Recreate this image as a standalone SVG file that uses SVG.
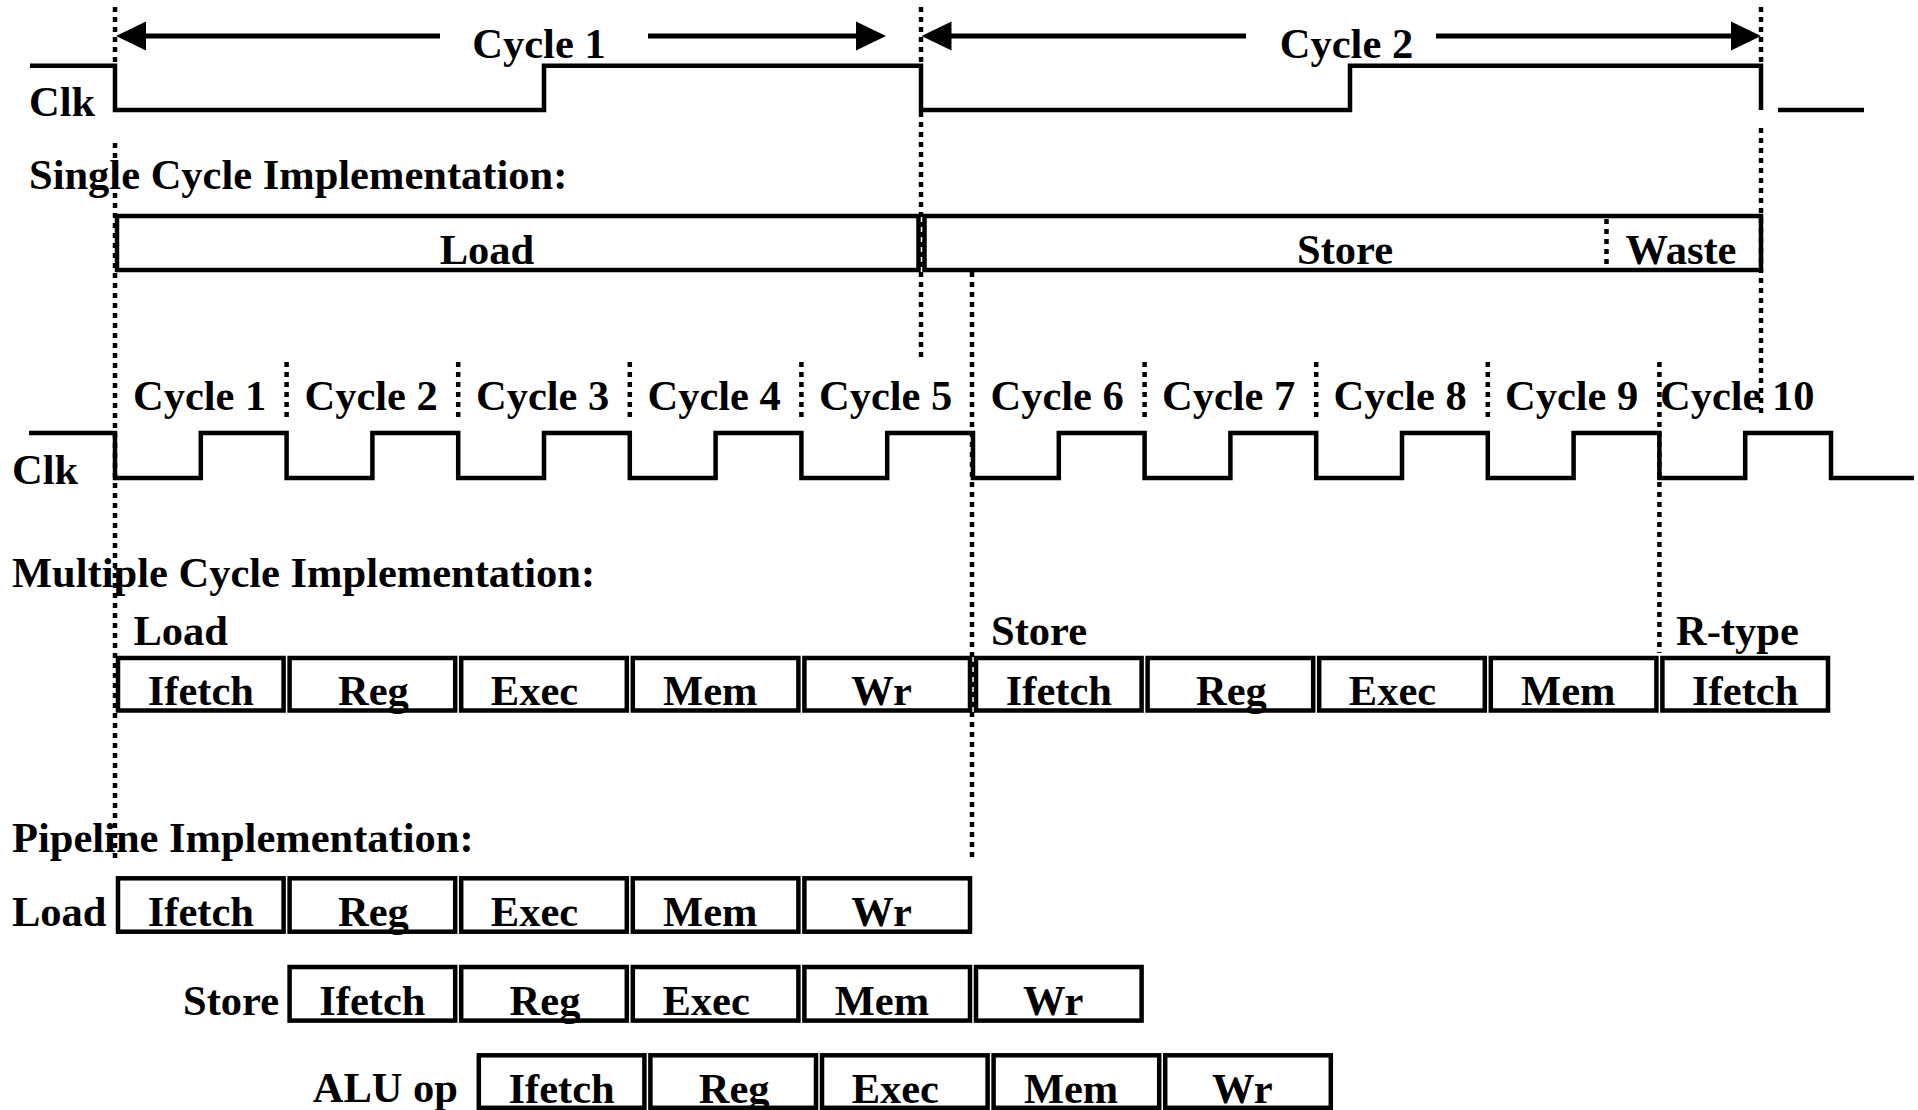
<svg xmlns="http://www.w3.org/2000/svg" width="1918" height="1110" viewBox="0 0 1918 1110">
<style>
text{font-family:"Liberation Serif","Times New Roman",serif;font-weight:bold;font-size:42.5px;fill:#000}
.m{text-anchor:middle}
.e{text-anchor:end}
.box{fill:#fff;stroke:#000;stroke-width:4.5}
.clk{fill:none;stroke:#000;stroke-width:4.5}
.dot{fill:none;stroke:#000;stroke-width:4.5;stroke-dasharray:5 5}
.arr{fill:none;stroke:#000;stroke-width:5}
</style>
<rect width="1918" height="1110" fill="#fff"/>

<g id="labels">
<text x="29" y="116">Clk</text>
<text x="29" y="189">Single Cycle Implementation:</text>
<text x="12" y="484">Clk</text>
<text x="12" y="587">Multiple Cycle Implementation:</text>
<text x="12" y="852">Pipeline Implementation:</text>
<text x="133.5" y="645">Load</text>
<text x="991" y="645">Store</text>
<text x="1676" y="645">R-type</text>
<text x="12" y="926">Load</text>
<text class="e" x="279" y="1015">Store</text>
<text class="e" x="458" y="1102">ALU op</text>
</g>

<g id="clock-top">
<path class="clk" d="M30 65.8H115V110H544V65.8H921V110H1350V65.8H1761V110"/>
<path class="clk" d="M1778 110H1864"/>
<text class="m" x="539" y="58">Cycle 1</text>
<text class="m" x="1346.5" y="58">Cycle 2</text>
</g>

<g id="clock-multi">
<path class="clk" d="M29 433H115V478H200.8V433H286.6V478H372.4V433H458.2V478H544V433H629.8V478H715.6V433H801.4V478H887.2V433H973V478H1058.8V433H1144.6V478H1230.4V433H1316.2V478H1402V433H1487.8V478H1573.6V433H1659.4V478H1745.2V433H1831V478H1914"/>
<text x="133" y="410">Cycle 1</text>
<text x="304.5" y="410">Cycle 2</text>
<text x="476" y="410">Cycle 3</text>
<text x="647.5" y="410">Cycle 4</text>
<text x="819" y="410">Cycle 5</text>
<text x="990.5" y="410">Cycle 6</text>
<text x="1162" y="410">Cycle 7</text>
<text x="1333.5" y="410">Cycle 8</text>
<text x="1505" y="410">Cycle 9</text>
<text x="1660" y="410">Cycle 10</text>
</g>

<g id="single-load"><rect class="box" x="117" y="216" width="801.5" height="54"/><text class="m" x="487" y="264">Load</text></g>
<g id="single-store"><rect class="box" x="924.5" y="216" width="836.5" height="54"/><text class="m" x="1345" y="264">Store</text><text class="m" x="1681" y="264">Waste</text></g>

<g id="multi-load-ifetch"><rect class="box" x="118" y="658" width="165.6" height="52.5"/><text class="m" x="200.8" y="705">Ifetch</text></g>
<g id="multi-load-reg"><rect class="box" x="289.6" y="658" width="165.6" height="52.5"/><text class="m" x="373.4" y="705">Reg</text></g>
<g id="multi-load-exec"><rect class="box" x="461.2" y="658" width="165.6" height="52.5"/><text class="m" x="534.5" y="705">Exec</text></g>
<g id="multi-load-mem"><rect class="box" x="632.8" y="658" width="165.6" height="52.5"/><text class="m" x="710.3" y="705">Mem</text></g>
<g id="multi-load-wr"><rect class="box" x="804.4" y="658" width="165.6" height="52.5"/><text class="m" x="881.6" y="705">Wr</text></g>
<g id="multi-store-ifetch"><rect class="box" x="976" y="658" width="165.6" height="52.5"/><text class="m" x="1058.8" y="705">Ifetch</text></g>
<g id="multi-store-reg"><rect class="box" x="1147.6" y="658" width="165.6" height="52.5"/><text class="m" x="1231.4" y="705">Reg</text></g>
<g id="multi-store-exec"><rect class="box" x="1319.2" y="658" width="165.6" height="52.5"/><text class="m" x="1392.5" y="705">Exec</text></g>
<g id="multi-store-mem"><rect class="box" x="1490.8" y="658" width="165.6" height="52.5"/><text class="m" x="1568.3" y="705">Mem</text></g>
<g id="multi-rtype-ifetch"><rect class="box" x="1662.4" y="658" width="165.6" height="52.5"/><text class="m" x="1745.2" y="705">Ifetch</text></g>

<g id="pipe-load-ifetch"><rect class="box" x="118" y="878.3" width="165.6" height="53.4"/><text class="m" x="200.8" y="926">Ifetch</text></g>
<g id="pipe-load-reg"><rect class="box" x="289.6" y="878.3" width="165.6" height="53.4"/><text class="m" x="373.4" y="926">Reg</text></g>
<g id="pipe-load-exec"><rect class="box" x="461.2" y="878.3" width="165.6" height="53.4"/><text class="m" x="534.5" y="926">Exec</text></g>
<g id="pipe-load-mem"><rect class="box" x="632.8" y="878.3" width="165.6" height="53.4"/><text class="m" x="710.3" y="926">Mem</text></g>
<g id="pipe-load-wr"><rect class="box" x="804.4" y="878.3" width="165.6" height="53.4"/><text class="m" x="881.6" y="926">Wr</text></g>

<g id="pipe-store-ifetch"><rect class="box" x="289.6" y="967" width="165.6" height="53.6"/><text class="m" x="372.4" y="1015">Ifetch</text></g>
<g id="pipe-store-reg"><rect class="box" x="461.2" y="967" width="165.6" height="53.6"/><text class="m" x="545" y="1015">Reg</text></g>
<g id="pipe-store-exec"><rect class="box" x="632.8" y="967" width="165.6" height="53.6"/><text class="m" x="706.1" y="1015">Exec</text></g>
<g id="pipe-store-mem"><rect class="box" x="804.4" y="967" width="165.6" height="53.6"/><text class="m" x="881.9" y="1015">Mem</text></g>
<g id="pipe-store-wr"><rect class="box" x="976" y="967" width="165.6" height="53.6"/><text class="m" x="1053.2" y="1015">Wr</text></g>

<g id="pipe-alu-ifetch"><rect class="box" x="478.8" y="1055.3" width="165.6" height="52.5"/><text class="m" x="561.6" y="1103">Ifetch</text></g>
<g id="pipe-alu-reg"><rect class="box" x="650.4" y="1055.3" width="165.6" height="52.5"/><text class="m" x="734.2" y="1103">Reg</text></g>
<g id="pipe-alu-exec"><rect class="box" x="822" y="1055.3" width="165.6" height="52.5"/><text class="m" x="895.3" y="1103">Exec</text></g>
<g id="pipe-alu-mem"><rect class="box" x="993.6" y="1055.3" width="165.6" height="52.5"/><text class="m" x="1071.1" y="1103">Mem</text></g>
<g id="pipe-alu-wr"><rect class="box" x="1165.2" y="1055.3" width="165.6" height="52.5"/><text class="m" x="1242.4" y="1103">Wr</text></g>

<g id="connectors">
<path class="dot" d="M115 7V63M921 7V63M1761 7V63"/>
<path class="dot" d="M115 143V862"/>
<path class="dot" d="M921 112V360"/>
<path class="dot" d="M1761 128V418"/>
<path class="dot" d="M1606.5 219V267"/>
<path class="dot" d="M972 272V860"/>
<path class="dot" d="M286.6 362V418M458.2 362V418M629.8 362V418M801.4 362V418M1144.6 362V418M1316.2 362V418M1487.8 362V418"/>
<path class="dot" d="M1659.4 362V653"/>
<path class="arr" d="M140 36H440M648 36H862"/>
<path class="arr" d="M946 36H1246M1436 36H1736"/>
<polygon points="116,36 146,21.5 146,50.5"/>
<polygon points="886,36 856,21.5 856,50.5"/>
<polygon points="921.5,36 951.5,21.5 951.5,50.5"/>
<polygon points="1761,36 1731,21.5 1731,50.5"/>
</g>
</svg>
